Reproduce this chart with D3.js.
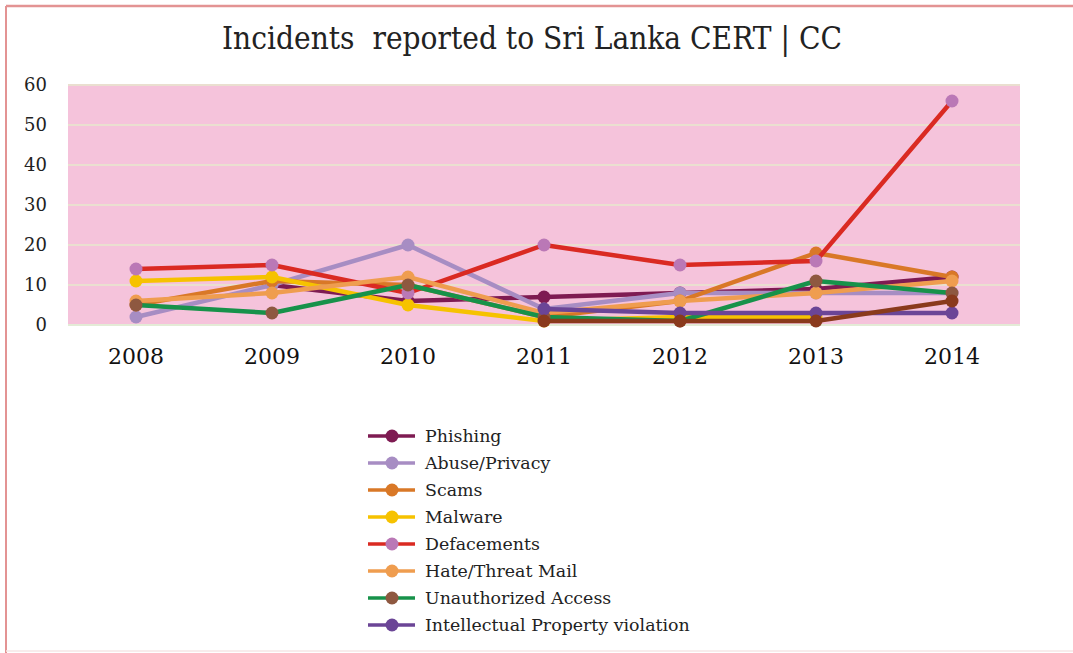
<!DOCTYPE html>
<html><head><meta charset="utf-8">
<script src="https://cdn.jsdelivr.net/npm/d3@7"></script>
<style>
html,body{margin:0;padding:0;background:#fff;}
svg{display:block;}
</style></head>
<body>
<svg id="chart" width="1073" height="653"></svg>
<script>
// ---- data ----
const years = ["2008","2009","2010","2011","2012","2013","2014"];
const yTicks = [0,10,20,30,40,50,60];
const phishing     = [null,10,6,7,8,9,12];
const abusePrivacy = [2,10,20,4,8,8,8];
const scams        = [5,11,10,2,6,18,12];
const malware      = [11,12,5,1,2,2,null];
const defacements  = [14,15,8,20,15,16,56];
const hateThreat   = [6,8,12,3,6,8,11];
const unauthorized = [5,3,10,2,1,11,8];
const ipViolation  = [null,null,null,4,3,3,3];
const unlabeled    = [null,null,null,1,1,1,6];   // series whose legend entry is cut off
const seriesNames  = ["Phishing","Abuse/Privacy","Scams","Malware","Defacements","Hate/Threat Mail","Unauthorized Access","Intellectual Property violation"];
const titleText = "Incidents  reported to Sri Lanka CERT | CC";

const series = [
  {name:seriesNames[0], values:phishing,     line:"#7E1B52", marker:"#7E1B52", legend:true},
  {name:seriesNames[1], values:abusePrivacy, line:"#A78DC3", marker:"#A78DC3", legend:true},
  {name:seriesNames[2], values:scams,        line:"#D97827", marker:"#D97827", legend:true},
  {name:seriesNames[3], values:malware,      line:"#F6C200", marker:"#F6C200", legend:true},
  {name:seriesNames[4], values:defacements,  line:"#DA2A22", marker:"#BA78B6", legend:true},
  {name:seriesNames[5], values:hateThreat,   line:"#EF9D4F", marker:"#EF9D4F", legend:true},
  {name:seriesNames[6], values:unauthorized, line:"#17924A", marker:"#8E5840", legend:true},
  {name:seriesNames[7], values:ipViolation,  line:"#6B4596", marker:"#6B4596", legend:true},
  {name:"", values:unlabeled, line:"#8A3A1C", marker:"#8A3A1C", legend:false}
];

const svg = d3.select("#chart");
const serif = "'DejaVu Serif', 'Liberation Serif', serif";
const condSerif = "'DejaVu Serif Condensed', 'DejaVu Serif', serif";

// frame
svg.append("line").attr("x1",6).attr("y1",6).attr("x2",1073).attr("y2",6)
  .attr("stroke","#E39393").attr("stroke-width",2.5);
svg.append("line").attr("x1",6).attr("y1",6).attr("x2",6).attr("y2",653)
  .attr("stroke","#E39393").attr("stroke-width",2);
svg.append("line").attr("x1",6).attr("y1",651).attr("x2",1073).attr("y2",651)
  .attr("stroke","#F6E6E6").attr("stroke-width",1.5);

// title
svg.append("text").attr("x",532).attr("y",49).attr("text-anchor","middle")
  .attr("font-family",condSerif).attr("font-size",31).attr("fill","#222")
  .attr("textLength",620).attr("lengthAdjust","spacingAndGlyphs")
  .style("white-space","pre").text(titleText);

const plot = {left:68, right:1020, top:85, bottom:325};
const x = d3.scaleBand().domain(years).range([plot.left, plot.right]);
const y = d3.scaleLinear().domain([0,60]).range([plot.bottom, plot.top]);

svg.append("rect").attr("x",plot.left).attr("y",plot.top)
  .attr("width",plot.right-plot.left).attr("height",plot.bottom-plot.top)
  .attr("fill","#F5C3DB");

// gridlines
svg.append("g").selectAll("line").data(yTicks).join("line")
  .attr("x1",plot.left).attr("x2",plot.right)
  .attr("y1",d=>y(d)).attr("y2",d=>y(d))
  .attr("stroke",d=>d===0?"#E3EBD6":"#EADFD0").attr("stroke-width",2);

// y axis
const yAxis = svg.append("g").attr("transform",`translate(${plot.left},0)`)
  .call(d3.axisLeft(y).tickValues(yTicks).tickSize(0).tickPadding(21));
yAxis.select(".domain").remove();
yAxis.attr("font-family",serif);
yAxis.selectAll("text").attr("font-family",serif).attr("font-size",18).attr("fill","#222");

// x axis
const xAxis = svg.append("g").attr("transform",`translate(0,${plot.bottom})`)
  .call(d3.axisBottom(x).tickSize(0).tickPadding(23));
xAxis.select(".domain").remove();
xAxis.attr("font-family",serif);
xAxis.selectAll("text").attr("font-family",serif).attr("font-size",22).attr("fill","#111");

// lines
const cx = d => x(d) + x.bandwidth()/2;
const lineGen = d3.line().defined(d=>d.v!==null).x(d=>cx(d.year)).y(d=>y(d.v));
series.forEach(s=>{
  const pts = years.map((yr,i)=>({year:yr, v:s.values[i]}));
  svg.append("path").datum(pts).attr("d",lineGen).attr("fill","none")
    .attr("stroke",s.line).attr("stroke-width",4.5).attr("stroke-linejoin","round");
  svg.append("g").selectAll("circle").data(pts.filter(d=>d.v!==null)).join("circle")
    .attr("cx",d=>cx(d.year)).attr("cy",d=>y(d.v)).attr("r",6.5).attr("fill",s.marker);
});

// legend
const legendSeries = series.filter(s=>s.legend);
const lg = svg.append("g");
const rowY = d3.scalePoint().domain(legendSeries.map(s=>s.name)).range([436,625]);
legendSeries.forEach(s=>{
  const yy = rowY(s.name);
  lg.append("line").attr("x1",368).attr("x2",415).attr("y1",yy).attr("y2",yy)
    .attr("stroke",s.line).attr("stroke-width",3.5);
  lg.append("circle").attr("cx",392).attr("cy",yy).attr("r",6.5).attr("fill",s.marker);
  lg.append("text").attr("x",425).attr("y",yy+6).attr("font-family",serif)
    .attr("font-size",17.4).attr("fill","#222").text(s.name);
});
</script>
</body></html>
